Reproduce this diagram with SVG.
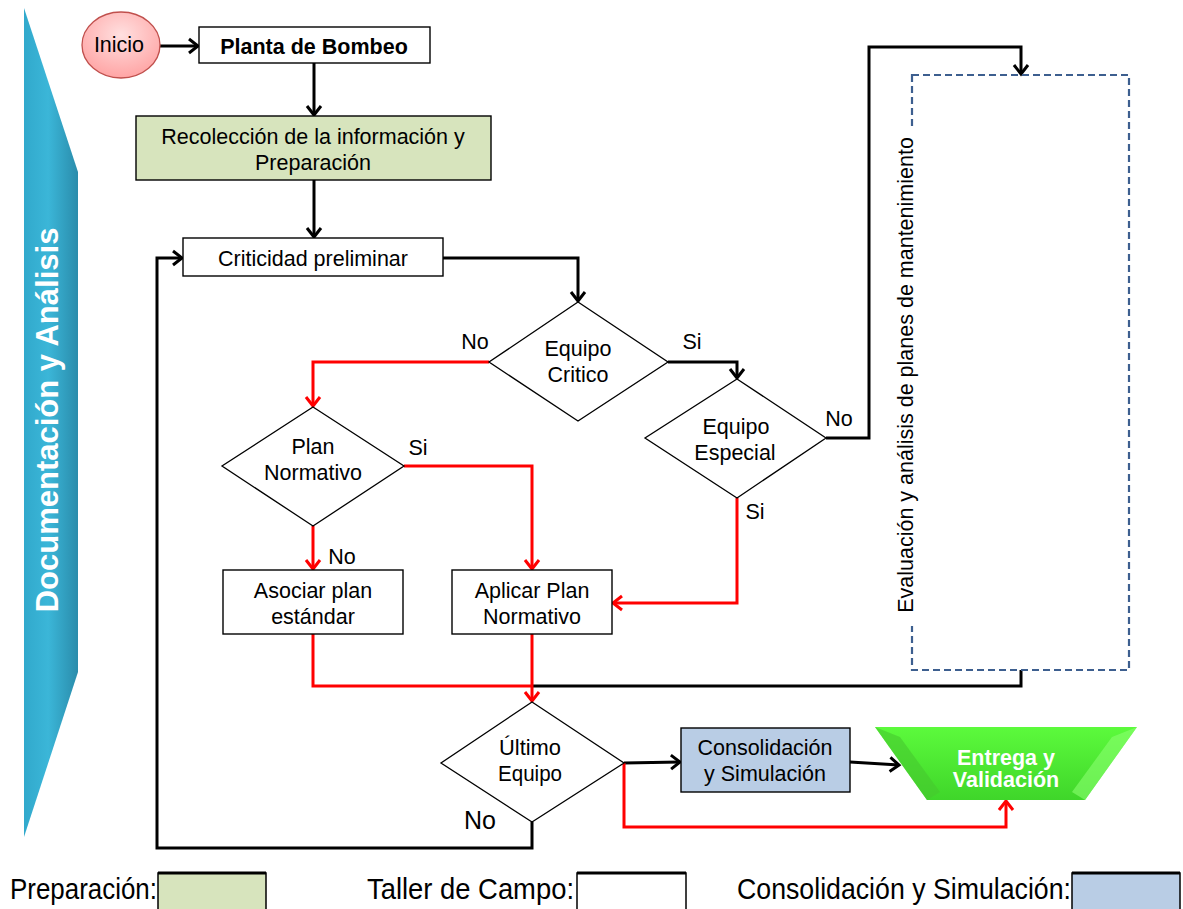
<svg xmlns="http://www.w3.org/2000/svg" width="1183" height="909" viewBox="0 0 1183 909">
  <style>
    .t { font-family: "Liberation Sans", Arial, sans-serif; font-size: 21.5px; fill: #000; text-anchor: middle; }
    .box { fill: #fff; stroke: #000; stroke-width: 1.4; }
    .dia { fill: #fff; stroke: #000; stroke-width: 1.3; }
    .k { fill: none; stroke: #000; stroke-width: 3; stroke-linejoin: miter; }
    .r { fill: none; stroke: #ff0000; stroke-width: 3; stroke-linejoin: miter; }
    .leg { font-family: "Liberation Sans", Arial, sans-serif; font-size: 29px; fill: #000; }
  </style>
  <defs>
    <marker id="ak" markerUnits="userSpaceOnUse" markerWidth="14" markerHeight="16" refX="11" refY="8" orient="auto" overflow="visible">
      <path d="M2,1 L11,8 L2,15" fill="none" stroke="#000" stroke-width="3"/>
    </marker>
    <marker id="ar" markerUnits="userSpaceOnUse" markerWidth="14" markerHeight="16" refX="11" refY="8" orient="auto" overflow="visible">
      <path d="M2,1 L11,8 L2,15" fill="none" stroke="#ff0000" stroke-width="3"/>
    </marker>
    <linearGradient id="banner" x1="0" y1="0" x2="1" y2="0">
      <stop offset="0" stop-color="#31a9cc"/>
      <stop offset="0.45" stop-color="#3bb6d8"/>
      <stop offset="1" stop-color="#2a8cab"/>
    </linearGradient>
    <radialGradient id="pink" cx="0.5" cy="0.35" r="0.7">
      <stop offset="0" stop-color="#ffe0e0"/>
      <stop offset="1" stop-color="#ffa0a0"/>
    </radialGradient>
    <linearGradient id="green" x1="0" y1="0" x2="0" y2="1">
      <stop offset="0" stop-color="#5cfa3c"/>
      <stop offset="1" stop-color="#3fd62a"/>
    </linearGradient>
  </defs>

  <!-- side banner -->
  <g id="banner-side">
    <path d="M24,8 L78,172 L78,672 L24,837 Z" fill="url(#banner)"/>
    <text x="0" y="0" transform="translate(58,420) rotate(-90)" font-family="'Liberation Sans', Arial, sans-serif" font-size="31" font-weight="bold" fill="#fff" text-anchor="middle">Documentación y Análisis</text>
  </g>

  <!-- connectors -->
  <g id="connectors">
    <path class="k" d="M160,46 L198,46" marker-end="url(#ak)"/>
    <path class="k" d="M314,63 L314,115" marker-end="url(#ak)"/>
    <path class="k" d="M314,180 L314,237" marker-end="url(#ak)"/>
    <path class="k" d="M443,258 L578,258 L578,301" marker-end="url(#ak)"/>
    <path class="r" d="M489,362 L313,362 L313,406" marker-end="url(#ar)"/>
    <path class="k" d="M668,362 L737,362 L737,378" marker-end="url(#ak)"/>
    <path class="r" d="M404,466 L532,466 L532,569" marker-end="url(#ar)"/>
    <path class="r" d="M313,526 L313,569" marker-end="url(#ar)"/>
    <path class="r" d="M737,498 L737,603 L613,603" marker-end="url(#ar)"/>
    <path class="k" d="M826,438 L869,438 L869,47 L1021,47 L1021,74" marker-end="url(#ak)"/>
    <path class="k" d="M1021,670 L1021,686 L532,686"/>
    <path class="r" d="M313,634 L313,686 L532,686"/>
    <path class="r" d="M532,634 L532,701" marker-end="url(#ar)"/>
    <path class="k" d="M532,822 L532,848 L157,848 L157,258 L182,258" marker-end="url(#ak)"/>
    <path class="k" d="M624,763 L680,762" marker-end="url(#ak)"/>
    <path class="k" d="M850,762 L899,765" marker-end="url(#ak)"/>
    <path class="r" d="M624,763 L624,827 L1006,827 L1006,801" marker-end="url(#ar)"/>
  </g>

  <g id="inicio">
    <ellipse cx="121" cy="45" rx="39" ry="33" fill="url(#pink)" stroke="#c0504d" stroke-width="1.3"/>
    <text class="t" x="119" y="52">Inicio</text>
  </g>

  <g id="planta">
    <rect class="box" x="199" y="27" width="231" height="36"/>
    <text class="t" x="314" y="53.5" font-weight="bold">Planta de Bombeo</text>
  </g>

  <g id="recoleccion">
    <rect class="box" x="136" y="116" width="355" height="64" style="fill:#d7e4bd"/>
    <text class="t" x="313" y="144">Recolección de la información y</text>
    <text class="t" x="313" y="170">Preparación</text>
  </g>

  <g id="criticidad">
    <rect class="box" x="183" y="238" width="260" height="38"/>
    <text class="t" x="313" y="266">Criticidad preliminar</text>
  </g>

  <g id="equipo-critico">
    <path class="dia" d="M578,302 L668,362 L578,421 L489,362 Z"/>
    <text class="t" x="578" y="355.5">Equipo</text>
    <text class="t" x="578" y="381.5">Critico</text>
  </g>
  <text class="t" x="475" y="348.5">No</text>
  <text class="t" x="692" y="348.5">Si</text>

  <g id="plan-normativo">
    <path class="dia" d="M313,407 L404,466 L313,526 L222,466 Z"/>
    <text class="t" x="313" y="453.5">Plan</text>
    <text class="t" x="313" y="479.5">Normativo</text>
  </g>
  <text class="t" x="418" y="454.5">Si</text>
  <text class="t" x="342" y="563.5">No</text>

  <g id="equipo-especial">
    <path class="dia" d="M737,379 L826,438 L737,498 L645,438 Z"/>
    <text class="t" x="736" y="433.5">Equipo</text>
    <text class="t" x="735" y="459.5">Especial</text>
  </g>
  <text class="t" x="839" y="425.5">No</text>
  <text class="t" x="755" y="518.5">Si</text>

  <g id="asociar">
    <rect class="box" x="223" y="570" width="180" height="64"/>
    <text class="t" x="313" y="597.5">Asociar plan</text>
    <text class="t" x="313" y="623.5">estándar</text>
  </g>

  <g id="aplicar">
    <rect class="box" x="452" y="570" width="160" height="64"/>
    <text class="t" x="532" y="597.5">Aplicar Plan</text>
    <text class="t" x="532" y="623.5">Normativo</text>
  </g>

  <g id="evaluacion">
    <rect x="912" y="75" width="217" height="595" fill="none" stroke="#3d5f8f" stroke-width="2.2" stroke-dasharray="7,4"/>
    <rect x="894" y="126" width="26" height="500" fill="#fff"/>
    <text class="t" x="0" y="0" transform="translate(913,375) rotate(-90)">Evaluación y análisis de planes de mantenimiento</text>
  </g>

  <g id="ultimo-equipo">
    <path class="dia" d="M532,702 L624,763 L532,822 L441,763 Z"/>
    <text class="t" x="530" y="754.5" textLength="62" lengthAdjust="spacingAndGlyphs">Último</text>
    <text class="t" x="530" y="780.5" textLength="64" lengthAdjust="spacingAndGlyphs">Equipo</text>
  </g>
  <text class="t" x="480" y="829" style="font-size:25px">No</text>

  <g id="consolidacion">
    <rect class="box" x="681" y="728" width="169" height="64" style="fill:#b9cde5"/>
    <text class="t" x="765" y="754.5">Consolidación</text>
    <text class="t" x="765" y="780.5">y Simulación</text>
  </g>

  <g id="entrega">
    <path d="M875,727 L1137,727 L1085,800 L927,800 Z" fill="url(#green)"/>
    <path d="M875,727 L900,737 L940,792 L927,800 Z" fill="#46c82e" opacity="0.6"/>
    <path d="M1137,727 L1112,737 L1072,792 L1085,800 Z" fill="#8aff70" opacity="0.6"/>
    <text class="t" x="1006" y="764.5" font-weight="bold" style="fill:#fff">Entrega y</text>
    <text class="t" x="1006" y="787" font-weight="bold" style="fill:#fff">Validación</text>
  </g>

  <!-- legend -->
  <g id="legend">
    <text class="leg" x="10" y="899" textLength="147" lengthAdjust="spacingAndGlyphs">Preparación:</text>
    <rect x="158" y="873" width="108" height="40" fill="#d7e4bd" stroke="#000" stroke-width="1.5"/>
    <line x1="158" y1="873" x2="266" y2="873" stroke="#000" stroke-width="3"/>
    <text class="leg" x="367" y="899" textLength="207" lengthAdjust="spacingAndGlyphs">Taller de Campo:</text>
    <rect x="577" y="873" width="109" height="40" fill="#fff" stroke="#000" stroke-width="1.5"/>
    <line x1="577" y1="873" x2="686" y2="873" stroke="#000" stroke-width="3"/>
    <text class="leg" x="737" y="899" textLength="334" lengthAdjust="spacingAndGlyphs">Consolidación y Simulación:</text>
    <rect x="1072" y="873" width="108" height="40" fill="#b9cde5" stroke="#000" stroke-width="1.5"/>
    <line x1="1072" y1="873" x2="1180" y2="873" stroke="#000" stroke-width="3"/>
  </g>
</svg>
